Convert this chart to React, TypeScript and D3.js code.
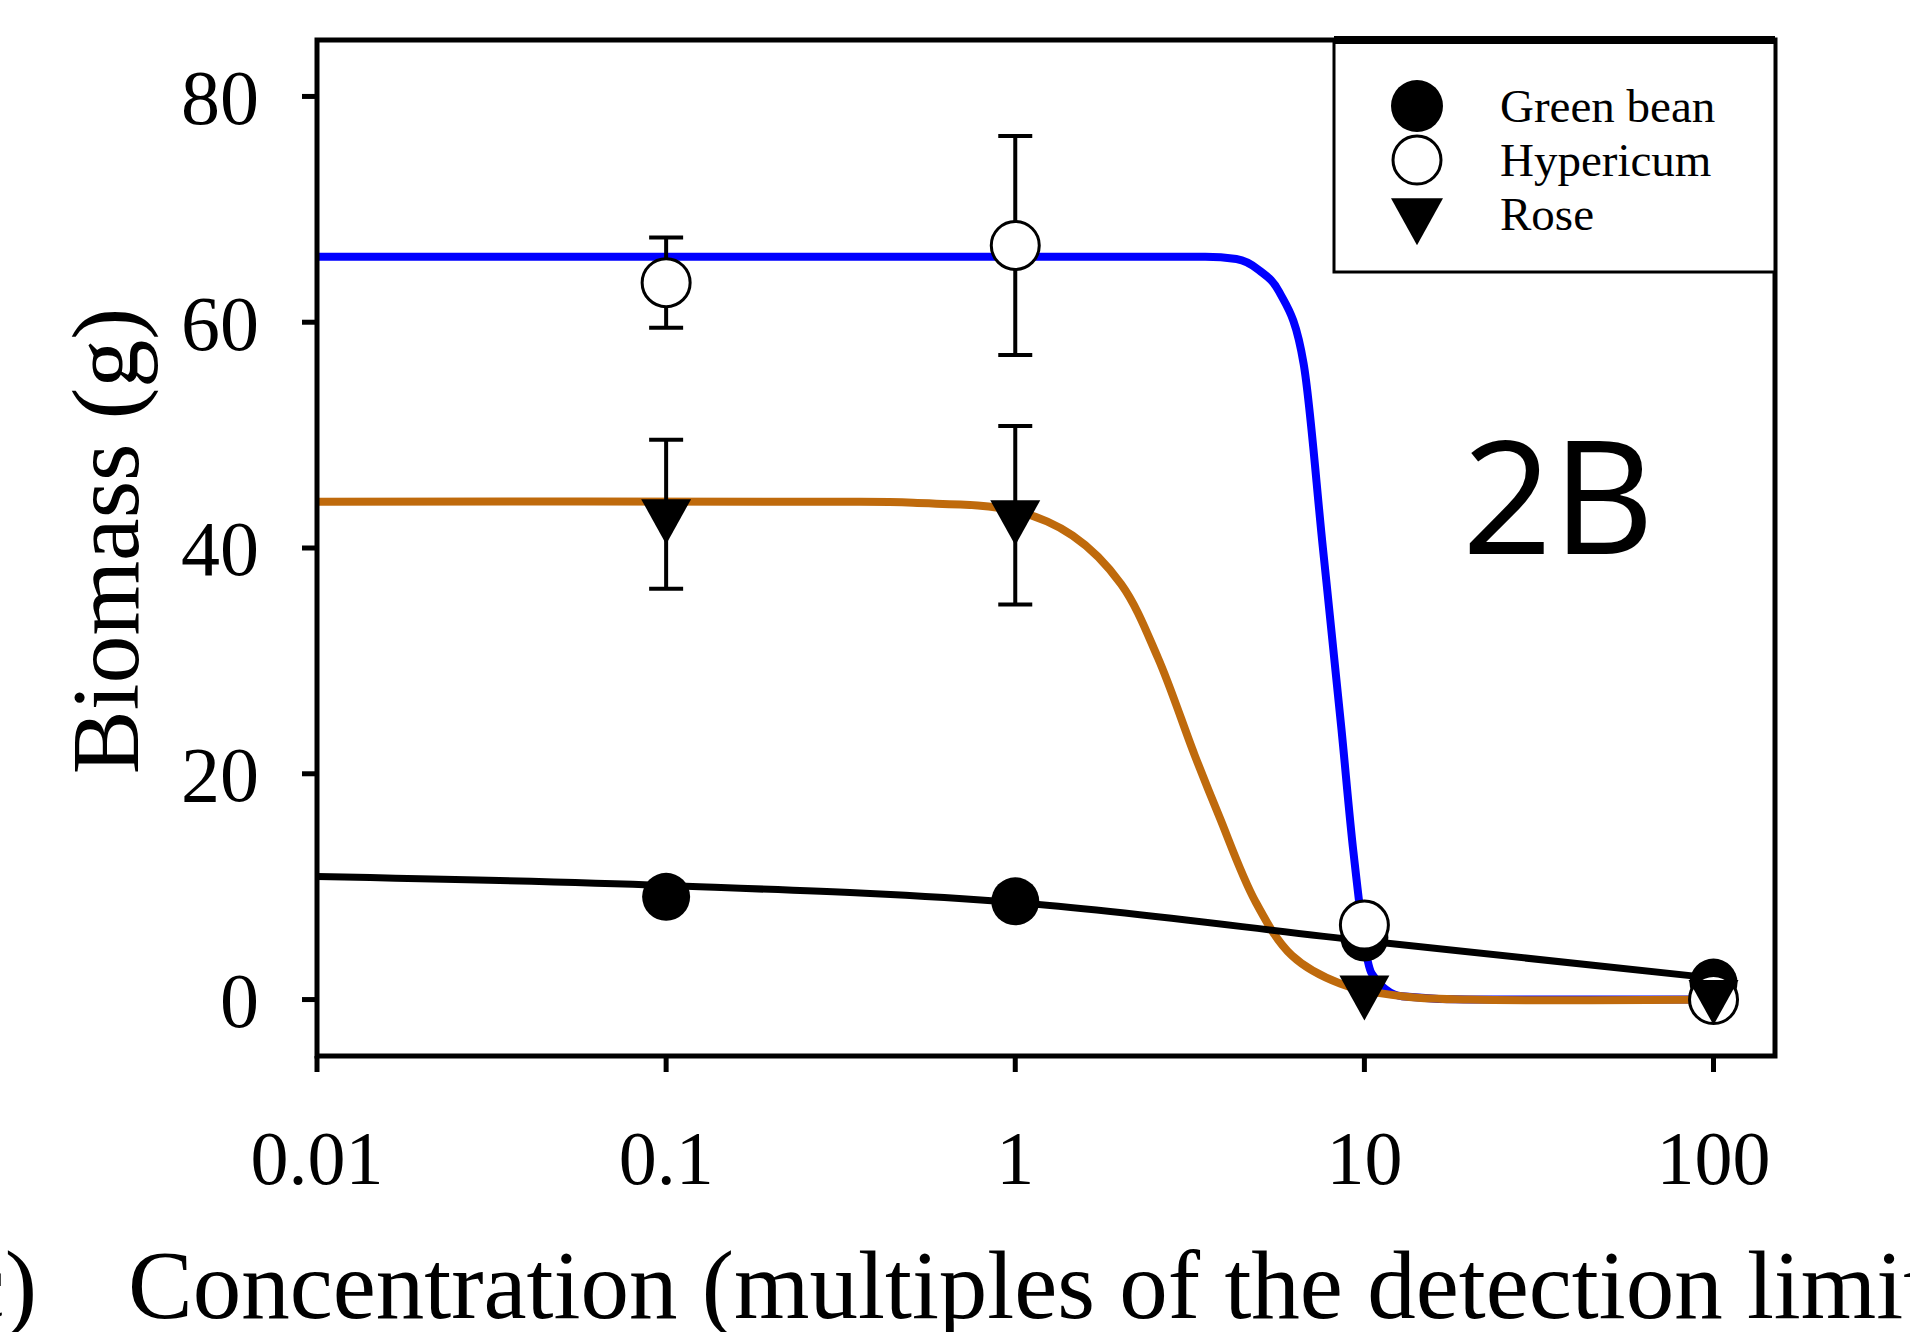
import React, { useEffect, useRef } from 'react';
import * as d3 from 'd3';

// measured points (concentration, multiples of detection limit)
const conc = [0.1, 1, 10, 100];
const greenBean = [9.1, 8.7, 5.5, 1.5];
const hypericum = [63.5, 66.8, 6.6, 0.0];
const hypericumErr = [4.0, 9.7, 0, 0];
const rose = [43.0, 42.9, 0.8, 0.4];
const roseErr = [6.6, 7.9, 0, 0];

// fitted curves as [x, y]
const greenBeanFit: [number, number][] = [
  [0.01, 10.9], [0.1, 10.1], [1, 8.6], [10, 5.2], [100, 1.9],
];
const hypericumFit: [number, number][] = [
  [0.01, 65.8], [1, 65.8], [3.5, 65.8], [4.3, 65.6], [5.0, 64.6], [5.7, 62.7],
  [6.7, 56.3], [7.6, 40.1], [8.6, 23.9], [9.3, 13.1], [10.5, 2.3], [12.8, 0.3],
  [20, 0], [100, 0],
];
const roseFit: [number, number][] = [
  [0.01, 44.1], [0.3, 44.1], [0.51, 44.0], [1.0, 43.3], [1.46, 41.1], [2.01, 36.8],
  [2.56, 30.3], [3.26, 21.7], [3.83, 16.3], [4.87, 8.7], [6.2, 3.9], [8.55, 1.4],
  [12.8, 0.3], [20, 0], [100, 0],
];

const xTicks = [0.01, 0.1, 1, 10, 100];
const xTickLabels = ['0.01', '0.1', '1', '10', '100'];
const yTicks = [0, 20, 40, 60, 80];
const legendNames = ['Green bean', 'Hypericum', 'Rose'];

const W = 1910;
const H = 1332;
const left = 317, right = 1775, top = 40, bottom = 1056;
const serif = '"Liberation Serif", "Times New Roman", serif';

function App() {
  const ref = useRef<SVGSVGElement>(null);

  useEffect(() => {
    const svg = d3.select(ref.current);
    svg.selectAll('*').remove();

    const x = d3.scaleLog().domain([0.01, 150]).range([left, right]);
    const y = d3.scaleLinear().domain([-5, 85]).range([bottom, top]);

    const line = d3.line<[number, number]>()
      .x(d => x(d[0]))
      .y(d => y(d[1]))
      .curve(d3.curveMonotoneX);

    const plot = svg.append('g');

    plot.append('path').datum(hypericumFit).attr('d', line)
      .attr('fill', 'none').attr('stroke', '#0000ff').attr('stroke-width', 8);
    plot.append('path').datum(roseFit).attr('d', line.curve(d3.curveCatmullRom.alpha(0.5)))
      .attr('fill', 'none').attr('stroke', '#bf6a0c').attr('stroke-width', 8);
    plot.append('path').datum(greenBeanFit).attr('d', line.curve(d3.curveMonotoneX))
      .attr('fill', 'none').attr('stroke', '#000').attr('stroke-width', 7);

    // error bars
    const cap = 17;
    const bars = [
      { v: hypericum, e: hypericumErr },
      { v: rose, e: roseErr },
    ];
    bars.forEach(s => {
      conc.forEach((c, i) => {
        if (!s.e[i]) return;
        const cx = x(c);
        const y0 = y(s.v[i] - s.e[i]);
        const y1 = y(s.v[i] + s.e[i]);
        const g = plot.append('g').attr('stroke', '#000').attr('stroke-width', 4);
        g.append('line').attr('x1', cx).attr('x2', cx).attr('y1', y0).attr('y2', y1);
        g.append('line').attr('x1', cx - cap).attr('x2', cx + cap).attr('y1', y0).attr('y2', y0);
        g.append('line').attr('x1', cx - cap).attr('x2', cx + cap).attr('y1', y1).attr('y2', y1);
      });
    });

    const r = 24;
    const tri = (w: number, h: number) => `M${-w / 2},${-h / 3}L${w / 2},${-h / 3}L0,${(2 * h) / 3}Z`;

    plot.selectAll('.gb').data(conc).enter().append('circle')
      .attr('cx', d => x(d)).attr('cy', (d, i) => y(greenBean[i])).attr('r', r)
      .attr('fill', '#000');
    plot.selectAll('.hy').data(conc).enter().append('circle')
      .attr('cx', d => x(d)).attr('cy', (d, i) => y(hypericum[i])).attr('r', r)
      .attr('fill', '#fff').attr('stroke', '#000').attr('stroke-width', 3);
    plot.selectAll('.ro').data(conc).enter().append('path')
      .attr('d', tri(50, 45))
      .attr('transform', (d, i) => `translate(${x(d)},${y(rose[i])})`)
      .attr('fill', '#000');

    // frame
    svg.append('rect')
      .attr('x', left).attr('y', top).attr('width', right - left).attr('height', bottom - top)
      .attr('fill', 'none').attr('stroke', '#000').attr('stroke-width', 5);

    // y ticks
    const ya = svg.append('g');
    yTicks.forEach(t => {
      ya.append('line').attr('x1', left - 15).attr('x2', left).attr('y1', y(t)).attr('y2', y(t))
        .attr('stroke', '#000').attr('stroke-width', 5);
      ya.append('text').attr('x', 259).attr('y', y(t)).attr('dy', '0.35em')
        .attr('text-anchor', 'end').attr('font-family', serif).attr('font-size', 78)
        .text(String(t));
    });

    // x ticks
    const xa = svg.append('g');
    xTicks.forEach((t, i) => {
      xa.append('line').attr('x1', x(t)).attr('x2', x(t)).attr('y1', bottom).attr('y2', bottom + 16)
        .attr('stroke', '#000').attr('stroke-width', 5);
      xa.append('text').attr('x', x(t)).attr('y', 1184)
        .attr('text-anchor', 'middle').attr('font-family', serif).attr('font-size', 76)
        .text(xTickLabels[i]);
    });

    svg.append('text')
      .attr('transform', `translate(138,541) rotate(-90)`)
      .attr('text-anchor', 'middle').attr('font-family', serif).attr('font-size', 96)
      .text('Biomass (g)');

    svg.append('text').attr('x', 37).attr('y', 1318).attr('text-anchor', 'end')
      .attr('font-family', serif).attr('font-size', 97).text('(c)');
    svg.append('text').attr('x', 128).attr('y', 1318)
      .attr('font-family', serif).attr('font-size', 97)
      .text('Concentration (multiples of the detection limit)');

    svg.append('text').attr('x', 1462).attr('y', 554)
      .attr('font-family', '"Open Sans", "Noto Sans", sans-serif').attr('font-size', 158)
      .text('2B');

    // legend
    const lg = svg.append('g');
    lg.append('rect').attr('x', 1334).attr('y', top).attr('width', right - 1334).attr('height', 272 - top)
      .attr('fill', '#fff').attr('stroke', '#000').attr('stroke-width', 3);
    lg.append('line').attr('x1', 1334).attr('x2', right).attr('y1', top).attr('y2', top)
      .attr('stroke', '#000').attr('stroke-width', 8);
    const rowY = [106, 160, 214];
    lg.append('circle').attr('cx', 1417).attr('cy', rowY[0]).attr('r', 26).attr('fill', '#000');
    lg.append('circle').attr('cx', 1417).attr('cy', rowY[1]).attr('r', 24)
      .attr('fill', '#fff').attr('stroke', '#000').attr('stroke-width', 3);
    lg.append('path').attr('d', tri(52, 47)).attr('transform', `translate(1417,${rowY[2]})`)
      .attr('fill', '#000');
    legendNames.forEach((n, i) => {
      lg.append('text').attr('x', 1500).attr('y', rowY[i]).attr('dy', '0.33em')
        .attr('font-family', serif).attr('font-size', 47).text(n);
    });
  }, []);

  return (
    <svg ref={ref} width={W} height={H} style={{ display: 'block', position: 'absolute', left: 0, top: 0, background: '#fff' }} />
  );
}

export default App;
